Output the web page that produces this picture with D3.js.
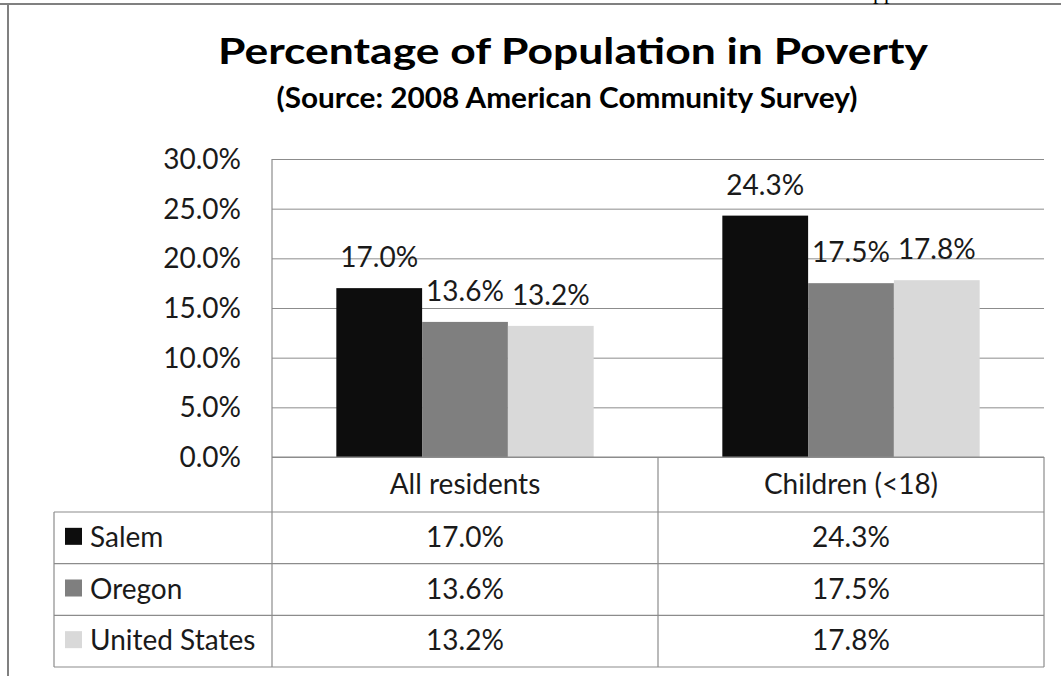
<!DOCTYPE html>
<html>
<head>
<meta charset="utf-8">
<script src="https://cdn.jsdelivr.net/npm/d3@7"></script>
<style>
  body { margin: 0; background: #fff; }
  svg { display: block; }
  text { font-family: Lato, "Open Sans", sans-serif; fill: #1a1a1a; }
</style>
</head>
<body>
<div id="chart"></div>
<script>
// data
const categories = ["All residents", "Children (<18)"];
const seriesNames = ["Salem", "Oregon", "United States"];
const salem = [17.0, 24.3];
const oregon = [13.6, 17.5];
const unitedStates = [13.2, 17.8];
const yTicks = [0, 5, 10, 15, 20, 25, 30];

const seriesValues = [salem, oregon, unitedStates];
const colors = ["#0d0d0d", "#7f7f7f", "#d9d9d9"];

const width = 1061, height = 676;
const plot = { left: 272, right: 1044, top: 159, bottom: 457 };
const tableTop = 512, tableBottom = 667, tableLeft = 54;
const fs = "28px";

const svg = d3.select("#chart").append("svg")
  .attr("width", width)
  .attr("height", height);

// outer frame (only top and left visible)
svg.append("line").attr("x1", 0).attr("x2", width).attr("y1", 4).attr("y2", 4)
  .attr("stroke", "#808080").attr("stroke-width", 2);
svg.append("line").attr("x1", 8).attr("x2", 8).attr("y1", 4).attr("y2", height)
  .attr("stroke", "#808080").attr("stroke-width", 2);

// text from the page above, cut by the frame like in the source
svg.append("text").attr("x", 873).attr("y", -1)
  .style("font-family", "'Liberation Serif', serif").style("font-size", "22px")
  .style("fill", "#000").text("pp");

// titles
svg.append("text").attr("x", 573).attr("y", 64)
  .attr("text-anchor", "middle")
  .attr("textLength", 710).attr("lengthAdjust", "spacingAndGlyphs")
  .style("font-size", "37px").style("font-weight", "bold").style("fill", "#000")
  .text("Percentage of Population in Poverty");
svg.append("text").attr("x", 567).attr("y", 108)
  .attr("text-anchor", "middle")
  .attr("textLength", 581).attr("lengthAdjust", "spacingAndGlyphs")
  .style("font-size", "29px").style("font-weight", "bold").style("fill", "#000")
  .text("(Source: 2008 American Community Survey)");

// scales
const y = d3.scaleLinear().domain([0, 30]).range([plot.bottom, plot.top]);
const x0 = d3.scaleBand().domain(categories).range([plot.left, plot.right]);
const x1 = d3.scaleBand().domain(seriesNames).range([0, x0.bandwidth()])
  .paddingInner(0).paddingOuter(0.75);

// gridlines + tick labels
const yAxis = svg.append("g")
  .attr("transform", `translate(${plot.left},0)`)
  .call(d3.axisLeft(y).tickValues(yTicks).tickSize(-(plot.right - plot.left))
    .tickPadding(31).tickFormat(d => d.toFixed(1) + "%"));
yAxis.select(".domain").remove();
yAxis.selectAll(".tick line").attr("stroke", "#8c8c8c").attr("stroke-width", 1);
yAxis.selectAll(".tick text")
  .style("font-size", fs).style("font-family", "Lato, sans-serif")
  .attr("fill", "#1a1a1a").attr("dy", "0.34em");

// bars
const rows = [];
seriesNames.forEach((s, si) => {
  categories.forEach((c, ci) => rows.push({ series: s, cat: c, value: seriesValues[si][ci], color: colors[si] }));
});

svg.append("g").selectAll("rect").data(rows).join("rect")
  .attr("x", d => x0(d.cat) + x1(d.series))
  .attr("y", d => y(d.value))
  .attr("width", x1.bandwidth())
  .attr("height", d => y(0) - y(d.value))
  .attr("fill", d => d.color);

svg.append("g").selectAll("text").data(rows).join("text")
  .attr("x", d => x0(d.cat) + x1(d.series) + x1.bandwidth() / 2)
  .attr("y", d => y(d.value) - 21)
  .attr("text-anchor", "middle")
  .style("font-size", fs)
  .text(d => d.value.toFixed(1) + "%");

// data table
const rowY = d3.scaleBand().domain(seriesNames).range([tableTop, tableBottom]);
const grid = svg.append("g").attr("stroke", "#8c8c8c").attr("stroke-width", 1.2);

grid.append("line").attr("x1", plot.left).attr("x2", plot.right)
  .attr("y1", plot.bottom).attr("y2", plot.bottom);
seriesNames.forEach(s => {
  grid.append("line").attr("x1", tableLeft).attr("x2", plot.right)
    .attr("y1", rowY(s)).attr("y2", rowY(s));
});
grid.append("line").attr("x1", tableLeft).attr("x2", plot.right)
  .attr("y1", tableBottom).attr("y2", tableBottom);
grid.append("line").attr("x1", plot.left).attr("x2", plot.left)
  .attr("y1", plot.top).attr("y2", tableBottom);
grid.append("line").attr("x1", tableLeft).attr("x2", tableLeft)
  .attr("y1", tableTop).attr("y2", tableBottom);
categories.forEach(c => {
  const xr = x0(c) + x0.bandwidth();
  grid.append("line").attr("x1", xr).attr("x2", xr)
    .attr("y1", plot.bottom).attr("y2", tableBottom);
});

// category header
svg.append("g").selectAll("text").data(categories).join("text")
  .attr("x", d => x0(d) + x0.bandwidth() / 2)
  .attr("y", (plot.bottom + tableTop) / 2 + 9)
  .attr("text-anchor", "middle")
  .style("font-size", fs)
  .text(d => d);

// legend keys + names
const legend = svg.append("g").selectAll("g").data(seriesNames).join("g")
  .attr("transform", s => `translate(0,${rowY(s) + rowY.bandwidth() / 2})`);
legend.append("rect")
  .attr("x", 65).attr("y", -10).attr("width", 17).attr("height", 17)
  .attr("fill", (s, i) => colors[i]);
legend.append("text")
  .attr("x", 90).attr("y", 9)
  .style("font-size", fs)
  .text(s => s);

// values
svg.append("g").selectAll("text").data(rows).join("text")
  .attr("x", d => x0(d.cat) + x0.bandwidth() / 2)
  .attr("y", d => rowY(d.series) + rowY.bandwidth() / 2 + 9)
  .attr("text-anchor", "middle")
  .style("font-size", fs)
  .text(d => d.value.toFixed(1) + "%");
</script>
</body>
</html>
